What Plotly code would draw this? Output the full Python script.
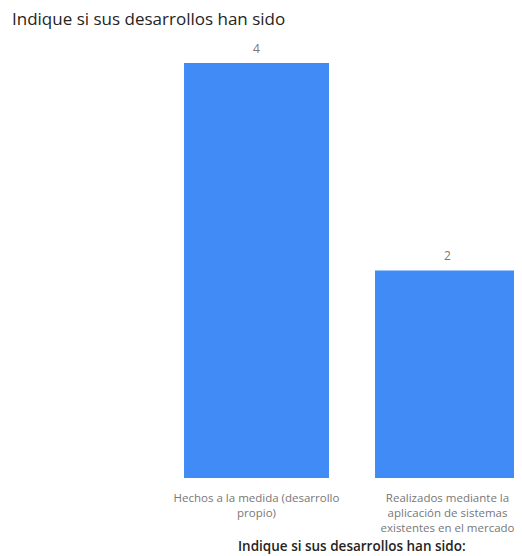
import plotly.graph_objects as go

categories = ["Hechos a la medida (desarrollo propio)",
              "Realizados mediante la aplicación de sistemas existentes en el mercado"]
tick_labels = ["Hechos a la medida (desarrollo<br>propio)",
               "Realizados mediante la<br>aplicación de sistemas<br>existentes en el mercado"]
values = [4, 2]

FONT = "Segoe UI, Open Sans, sans-serif"
# page has an 8px body margin, so the figure is sized/offset accordingly
W, H = 514, 548
L, R, T, B = 142, 0, 55, 78
x_pos = list(range(len(categories)))

fig = go.Figure(go.Bar(
    x=x_pos, y=values, width=0.759,
    marker=dict(color="#418BF6", line=dict(width=0)),
    cliponaxis=False, hoverinfo="skip",
))

annotations = [
    dict(x=xp, y=v, xref="x", yref="y", text=str(v), showarrow=False,
         yanchor="middle", yshift=15,
         font=dict(family=FONT, size=12, color="#777777"))
    for xp, v in zip(x_pos, values)
]
plot_h = H - T - B
plot_w = W - L - R
annotations.append(dict(
    x=(344 - L) / plot_w, y=-(537.5 - (H - B)) / plot_h, xref="paper", yref="paper",
    text="Indique si sus desarrollos han sido:", showarrow=False,
    xanchor="center", yanchor="middle",
    font=dict(family=FONT, size=13.5, color="#252423", weight=600),
))

fig.update_layout(
    width=W, height=H,
    margin=dict(l=L, r=R, t=T, b=B, pad=0),
    paper_bgcolor="white", plot_bgcolor="white",
    showlegend=False,
    annotations=annotations,
    title=dict(text="Indique si sus desarrollos han sido",
               x=4 / W, xanchor="left", y=1 - 11 / H, yanchor="middle",
               font=dict(family=FONT, size=17, color="#252423")),
    xaxis=dict(range=[-0.5576, 1.390], tickmode="array", tickvals=x_pos, ticktext=tick_labels,
               showgrid=False, zeroline=False, showline=False,
               ticks="outside", ticklen=9, tickcolor="rgba(0,0,0,0)",
               tickfont=dict(family=FONT, size=11.5, color="#777777")),
    yaxis=dict(range=[0, 4], visible=False, showgrid=False, zeroline=False),
)

fig.write_html("out.html")
